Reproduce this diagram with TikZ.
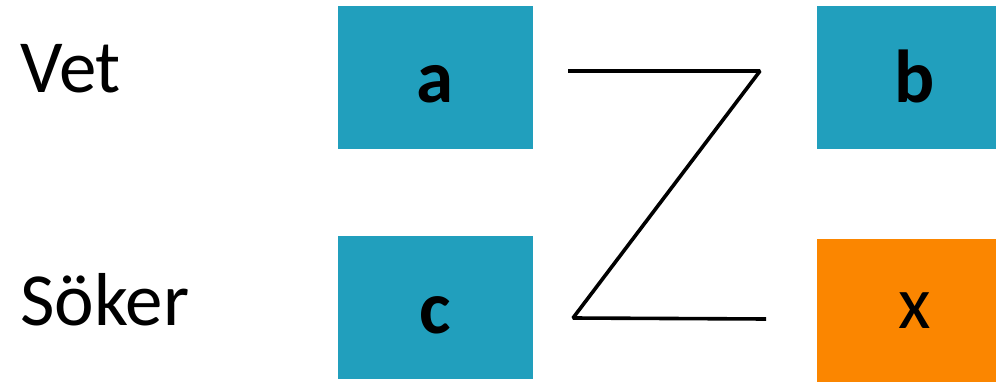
\documentclass[tikz,border=0pt]{standalone}
\usepackage{fontspec}
\setmainfont{Carlito}
\definecolor{teal}{RGB}{33,159,189}
\definecolor{orng}{RGB}{251,134,0}
\begin{document}
\begin{tikzpicture}[x=1pt,y=1pt,
  box/.style={draw=none,inner sep=0pt,minimum width=195pt,minimum height=143pt},
  lbl/.style={inner sep=0pt,anchor=base,font=\fontsize{75}{80}\selectfont},
  side/.style={inner sep=0pt,anchor=base west,font=\fontsize{75}{80}\selectfont},
  zline/.style={line width=3.6pt,line join=bevel}]
\useasboundingbox (0,0) rectangle (996,381);
\clip (0,0) rectangle (996,381);
\node[box,fill=teal] (A) at (435.5,303.5) {};
\node[box,fill=teal] (C) at (435.5,73.5) {};
\node[box,fill=teal] (B) at (914.5,303.5) {};
\node[box,fill=orng] (X) at (914.5,70.5) {};
\node[lbl] (ta) at (435.5,278) {\bfseries a};
\node[lbl] (tb) at (914.5,278) {\bfseries b};
\node[lbl] (tc) at (435.5,48) {\bfseries c};
\node[lbl] (tx) at (914.5,53) {x};
\node[side] (vet) at (20,288) {Vet};
\node[side] (soker) at (20,56) {Söker};
\coordinate (z1) at (568,310);
\coordinate (z2) at (760,310);
\coordinate (z3) at (573,63);
\coordinate (z4) at (766,62);
\draw[zline] (z1) -- (z2) -- (z3) -- (z4);
\end{tikzpicture}
\end{document}
